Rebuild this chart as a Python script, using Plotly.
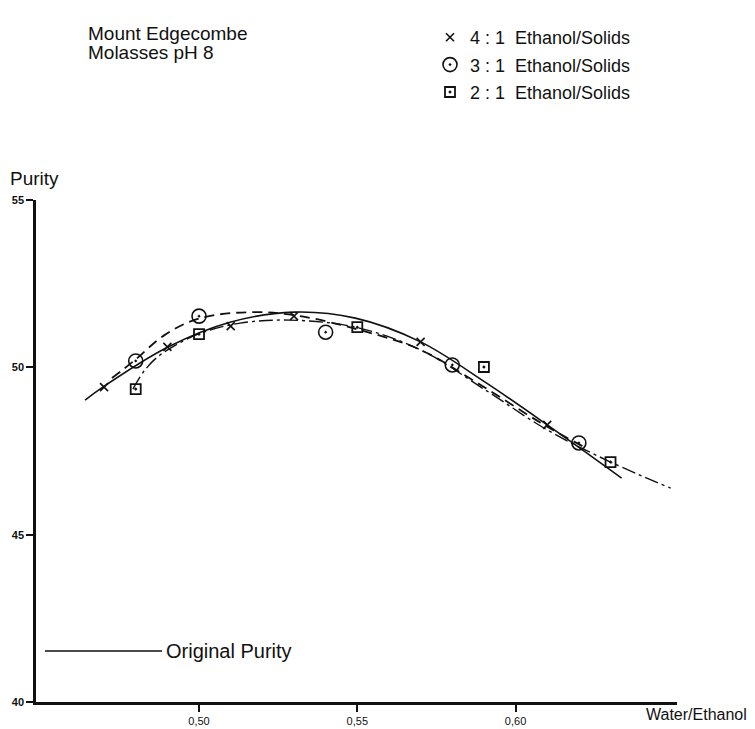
import plotly.graph_objects as go

# ---- data ----
tick_vals_x = [0.50, 0.55, 0.60]
tick_text_x = ["0,50", "0,55", "0,60"]
tick_vals_y = [40, 45, 50, 55]

# measured points
x41 = [0.47, 0.49, 0.51, 0.53, 0.57, 0.61]
y41 = [49.41, 50.61, 51.23, 51.53, 50.76, 48.28]
x31 = [0.48, 0.50, 0.54, 0.58, 0.62]
y31 = [50.19, 51.53, 51.05, 50.07, 47.74]
x21 = [0.48, 0.50, 0.55, 0.59, 0.63]
y21 = [49.35, 50.99, 51.20, 50.01, 47.17]

# hand-drawn fitted curves
cx41 = [0.464, 0.4696, 0.4902, 0.5098, 0.530, 0.5494, 0.570, 0.5905, 0.610, 0.6335]
cy41 = [49.02, 49.41, 50.61, 51.35, 51.65, 51.47, 50.76, 49.55, 48.28, 46.69]
cx31 = [0.4725, 0.4794, 0.4892, 0.5003, 0.5177, 0.532, 0.551, 0.570, 0.589, 0.608, 0.6222]
cy31 = [49.68, 50.19, 50.97, 51.47, 51.65, 51.53, 51.11, 50.52, 49.47, 48.34, 47.59]
cx21 = [0.4791, 0.4829, 0.4877, 0.4997, 0.513, 0.5288, 0.5494, 0.570, 0.5905, 0.610, 0.630, 0.649]
cy21 = [49.35, 49.92, 50.37, 50.99, 51.32, 51.41, 51.20, 50.52, 49.32, 48.13, 47.17, 46.39]

FONT = "Liberation Sans, Arial, sans-serif"
BLACK = "#111111"

# the page body adds an 8px margin; the figure is sized and offset to compensate
OFF = 8
W, H = 755 - OFF, 729 - OFF
PL, PT = 36, 200          # plot-area left/top in window pixels
PR, PB = 677, 702         # plot-area right/bottom in window pixels
pw, ph = PR - PL, PB - PT


def px(xw):
    return (xw - PL) / pw


def py(yw):
    return (PB - yw) / ph


def label(text, x, y, size, xanchor="left", yanchor="middle"):
    return dict(text=text, xref="paper", yref="paper", x=px(x), y=py(y), xanchor=xanchor,
                yanchor=yanchor, showarrow=False, align="left",
                font=dict(size=size, family=FONT, color=BLACK))


fig = go.Figure()

# curves
fig.add_trace(go.Scatter(x=cx41, y=cy41, mode="lines", line=dict(color=BLACK, width=1.6, shape="spline"),
                         showlegend=False, hoverinfo="skip"))
fig.add_trace(go.Scatter(x=cx31, y=cy31, mode="lines", line=dict(color=BLACK, width=1.8, dash="10px,6px", shape="spline"),
                         showlegend=False, hoverinfo="skip"))
fig.add_trace(go.Scatter(x=cx21, y=cy21, mode="lines", line=dict(color=BLACK, width=1.4, dash="14px,4px,3px,4px", shape="spline"),
                         showlegend=False, hoverinfo="skip"))

# markers
fig.add_trace(go.Scatter(x=x41, y=y41, mode="markers", name="4 : 1  Ethanol/Solids",
                         legendgroup="a",
                         marker=dict(symbol="x-thin", size=8, color=BLACK, line=dict(width=1.6, color=BLACK))))
fig.add_trace(go.Scatter(x=x31, y=y31, mode="markers", name="3 : 1  Ethanol/Solids",
                         legendgroup="b",
                         marker=dict(symbol="circle-open-dot", size=14, color=BLACK, line=dict(width=1.6, color=BLACK))))
fig.add_trace(go.Scatter(x=x21, y=y21, mode="markers", name="2 : 1  Ethanol/Solids",
                         legendgroup="c",
                         marker=dict(symbol="square-open-dot", size=10, color=BLACK, line=dict(width=1.8, color=BLACK))))

fig.update_layout(
    width=W, height=H,
    margin=dict(l=PL - OFF, r=W + OFF - PR, t=PT - OFF, b=H + OFF - PB, autoexpand=False),
    paper_bgcolor="white", plot_bgcolor="white",
    font=dict(family=FONT, color=BLACK, size=16),
    legend=dict(x=px(430), y=py(19), xanchor="left", yanchor="top", traceorder="grouped",
                tracegroupgap=1, font=dict(size=18, family=FONT, color=BLACK),
                bgcolor="rgba(0,0,0,0)", itemwidth=30),
    xaxis=dict(range=[0.4485, 0.651], showgrid=False, zeroline=False, showline=True,
               linecolor=BLACK, linewidth=2.5, ticks="outside", ticklen=7, tickwidth=2,
               tickcolor=BLACK, tickvals=tick_vals_x, ticktext=tick_text_x,
               tickfont=dict(size=11, family=FONT, color=BLACK)),
    yaxis=dict(range=[40, 55], showgrid=False, zeroline=False, showline=True,
               linecolor=BLACK, linewidth=2.5, ticks="outside", ticklen=7, tickwidth=2,
               tickcolor=BLACK, tickvals=tick_vals_y,
               tickfont=dict(size=11, family=FONT, color=BLACK, weight="bold")),
    shapes=[dict(type="line", xref="paper", yref="paper", x0=px(45), x1=px(162), y0=py(651), y1=py(651),
                 line=dict(color=BLACK, width=1.6))],
    annotations=[
        label("Mount Edgecombe", 86, 33, 19),
        label("Molasses pH 8", 86, 52, 19),
        label("Purity", 8, 178, 19),
        label("Water/Ethanol", 644, 714, 16),
        label("Original Purity", 164, 651, 20),
    ],
)

fig.write_html("out.html")
